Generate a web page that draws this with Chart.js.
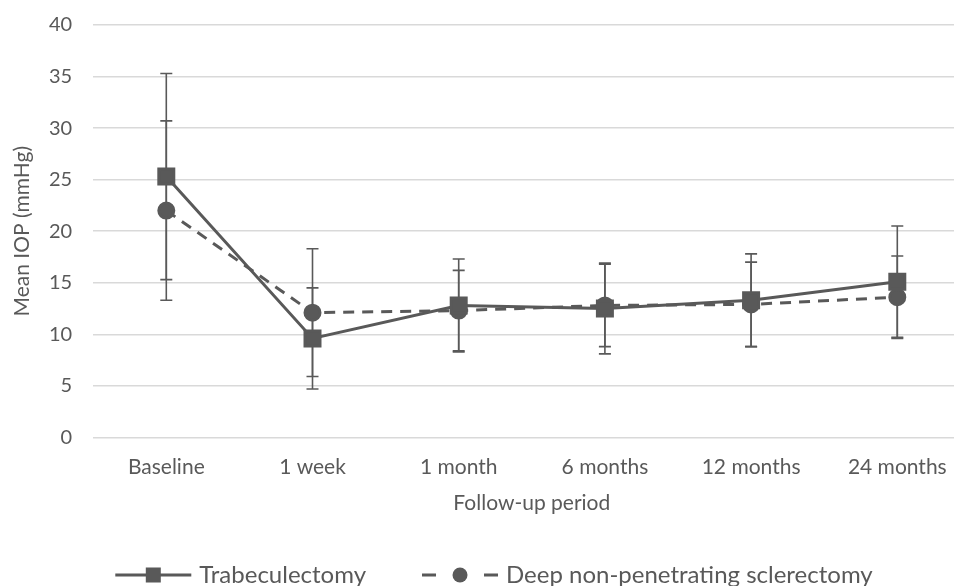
<!DOCTYPE html>
<html>
<head>
<meta charset="utf-8">
<script src="https://cdn.jsdelivr.net/npm/chart.js@4.4.1/dist/chart.umd.min.js"></script>
<style>
  html, body { margin: 0; padding: 0; background: #fff; overflow: hidden; }
  canvas { display: block; }
</style>
</head>
<body>
<canvas id="myChart" width="984" height="586"></canvas>
<script>
const periods = ['Baseline', '1 week', '1 month', '6 months', '12 months', '24 months'];
const trabMean = [25.3, 9.6, 12.8, 12.5, 13.3, 15.1];
const trabSD = [10.0, 4.9, 4.5, 4.4, 4.5, 5.4];
const dnpsMean = [22.0, 12.1, 12.3, 12.8, 12.9, 13.6];
const dnpsSD = [8.7, 6.2, 3.9, 4.0, 4.1, 4.0];
const yMin = 0, yMax = 40, yStep = 5;

const grey = '#595959';
const fontFamily = 'Lato, "Open Sans", sans-serif';

// error bars drawn behind the lines
const errorBars = {
  id: 'errorBars',
  beforeDatasetsDraw(chart) {
    const { ctx, scales: { x, y } } = chart;
    ctx.save();
    ctx.strokeStyle = grey;
    ctx.lineWidth = 1.6;
    chart.data.datasets.forEach(ds => {
      ds.sd.forEach((s, i) => {
        const px = x.getPixelForValue(i);
        const top = y.getPixelForValue(ds.data[i] + s);
        const bot = y.getPixelForValue(ds.data[i] - s);
        ctx.beginPath();
        ctx.moveTo(px, top); ctx.lineTo(px, bot);
        ctx.moveTo(px - 6, top); ctx.lineTo(px + 6, top);
        ctx.moveTo(px - 6, bot); ctx.lineTo(px + 6, bot);
        ctx.stroke();
      });
    });
    ctx.restore();
  }
};

// legend with line + marker swatches, like the office chart
const lineLegend = {
  id: 'lineLegend',
  afterDraw(chart) {
    const ctx = chart.ctx;
    const iconW = 76, textGap = 8, itemGap = 56, cy = 575;
    ctx.save();
    ctx.font = '24px ' + fontFamily;
    const items = chart.data.datasets.map(ds => ({ ds, w: iconW + textGap + ctx.measureText(ds.label).width }));
    const total = items.reduce((a, it) => a + it.w, 0) + itemGap * (items.length - 1);
    let x = 494 - total / 2;
    items.forEach(({ ds, w }) => {
      ctx.strokeStyle = grey; ctx.fillStyle = grey; ctx.lineWidth = 3;
      ctx.beginPath();
      if (ds.borderDash && ds.borderDash.length) {
        ctx.moveTo(x, cy); ctx.lineTo(x + 14, cy);
        ctx.moveTo(x + iconW - 14, cy); ctx.lineTo(x + iconW, cy);
      } else {
        ctx.moveTo(x, cy); ctx.lineTo(x + iconW, cy);
      }
      ctx.stroke();
      const mx = x + iconW / 2;
      if (ds.pointStyle === 'rect') {
        ctx.fillRect(mx - 7.5, cy - 7.5, 15, 15);
      } else {
        ctx.beginPath(); ctx.arc(mx, cy, 7.5, 0, Math.PI * 2); ctx.fill();
      }
      ctx.textBaseline = 'middle';
      ctx.textAlign = 'left';
      ctx.fillText(ds.label, x + iconW + textGap, cy);
      x += w + itemGap;
    });
    ctx.restore();
  }
};

const ctx = document.getElementById('myChart').getContext('2d');
const myChart = new Chart(ctx, {
  type: 'line',
  data: {
    labels: periods,
    datasets: [{
      label: 'Trabeculectomy',
      data: trabMean,
      sd: trabSD,
      borderColor: grey,
      backgroundColor: grey,
      borderWidth: 3,
      pointStyle: 'rect',
      pointRadius: 10.6,
      pointHoverRadius: 10.6,
      tension: 0
    }, {
      label: 'Deep non-penetrating sclerectomy',
      data: dnpsMean,
      sd: dnpsSD,
      borderColor: grey,
      backgroundColor: grey,
      borderWidth: 3,
      borderDash: [11, 8],
      pointStyle: 'circle',
      pointRadius: 7.5,
      pointHoverRadius: 7.5,
      tension: 0
    }]
  },
  options: {
    responsive: false,
    animation: false,
    layout: { padding: { top: 0, left: 0, right: 0, bottom: 70 } },
    plugins: {
      legend: { display: false },
      tooltip: { enabled: false }
    },
    scales: {
      x: {
        offset: true,
        grid: { display: false, drawTicks: false },
        border: { display: false },
        ticks: { color: grey, padding: 17.4, font: { family: fontFamily, size: 21 }, maxRotation: 0 },
        title: { display: true, text: 'Follow-up period', color: grey, padding: { top: -6.6, bottom: 0 }, font: { family: fontFamily, size: 21 } }
      },
      y: {
        min: yMin,
        max: yMax,
        grid: { color: '#d9d9d9', lineWidth: 1.5, drawTicks: true, tickLength: 8, tickColor: 'rgba(0,0,0,0)' },
        border: { display: false },
        ticks: { stepSize: yStep, color: grey, padding: 13, font: { family: fontFamily, size: 20 } },
        title: { display: true, text: 'Mean IOP (mmHg)', color: grey, padding: { top: 9.4, bottom: 1.4 }, font: { family: fontFamily, size: 21 } }
      }
    }
  },
  plugins: [errorBars, lineLegend]
});
</script>
</body>
</html>
